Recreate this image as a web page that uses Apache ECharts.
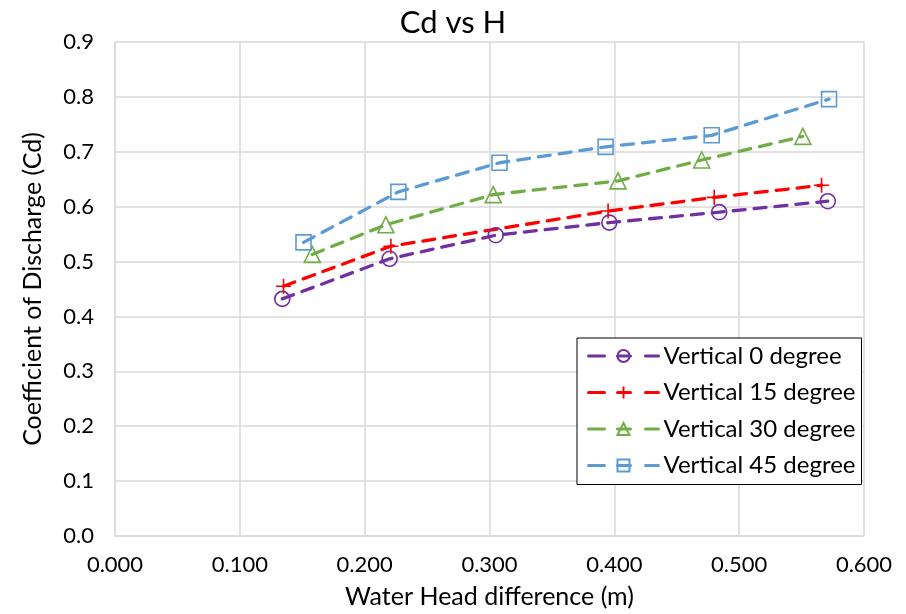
<!DOCTYPE html>
<html>
<head>
<meta charset="utf-8">
<script src="https://cdn.jsdelivr.net/npm/echarts@6/dist/echarts.min.js"></script>
<style>
  html, body { margin: 0; padding: 0; background: #fff; }
  #chart { width: 906px; height: 614px; }
</style>
</head>
<body>
<div id="chart"></div>
<script>
// Water head difference (m) and discharge coefficient per nozzle angle
const seriesNames = ['Vertical 0 degree', 'Vertical 15 degree', 'Vertical 30 degree', 'Vertical 45 degree'];
const h0  = [0.134, 0.220, 0.305, 0.396, 0.484, 0.571];
const cd0 = [0.432, 0.505, 0.548, 0.571, 0.590, 0.610];
const h15  = [0.135, 0.221, 0.395, 0.480, 0.566];
const cd15 = [0.455, 0.528, 0.592, 0.617, 0.639];
const h30  = [0.158, 0.217, 0.303, 0.403, 0.470, 0.551];
const cd30 = [0.513, 0.567, 0.622, 0.647, 0.685, 0.728];
const h45  = [0.151, 0.227, 0.308, 0.393, 0.478, 0.572];
const cd45 = [0.535, 0.627, 0.680, 0.709, 0.730, 0.796];

const FONT = 'Lato, "Open Sans", sans-serif';
const GRID_GREY = '#d9d9d9';
const plusPath = 'path://M0,5 L10,5 M5,0 L5,10';

function pairs(xs, ys) { return xs.map((x, i) => [x, ys[i]]); }

function makeSeries(name, xs, ys, color, symbol, size) {
  return {
    name: name,
    type: 'line',
    data: pairs(xs, ys),
    symbol: symbol,
    symbolSize: size,
    showAllSymbol: true,
    lineStyle: { color: color, width: 3.3, type: [12, 9], cap: 'round' },
    itemStyle: { color: 'none', borderColor: color, borderWidth: 1.6 },
    emphasis: { disabled: true },
    animation: false
  };
}

const chart = echarts.init(document.getElementById('chart'), null, { renderer: 'canvas' });
chart.setOption({
  backgroundColor: '#fff',
  animation: false,
  title: {
    text: 'Cd vs H',
    left: 'center',
    top: 2,
    textStyle: { fontFamily: FONT, fontSize: 31, fontWeight: 'normal', color: '#000' }
  },
  grid: { left: 115, right: 42, top: 42, bottom: 76, containLabel: false },
  xAxis: {
    type: 'value',
    min: 0, max: 0.6, interval: 0.1,
    name: 'Water Head difference (m)',
    nameLocation: 'middle',
    nameGap: 48,
    nameTextStyle: { fontFamily: FONT, fontSize: 25, color: '#000' },
    axisLine: { show: true, lineStyle: { color: GRID_GREY, width: 1.5 } },
    axisTick: { show: false },
    axisLabel: {
      fontFamily: FONT, fontSize: 22, color: '#000', margin: 18,
      formatter: v => v.toFixed(3)
    },
    splitLine: { show: true, lineStyle: { color: GRID_GREY, width: 1.5 } }
  },
  yAxis: {
    type: 'value',
    min: 0, max: 0.9, interval: 0.1,
    name: 'Coefficient of Discharge (Cd)',
    nameLocation: 'middle',
    nameGap: 70,
    nameTextStyle: { fontFamily: FONT, fontSize: 25, color: '#000' },
    axisLine: { show: true, lineStyle: { color: GRID_GREY, width: 1.5 } },
    axisTick: { show: false },
    axisLabel: {
      fontFamily: FONT, fontSize: 22, color: '#000', margin: 21,
      formatter: v => v.toFixed(1)
    },
    splitLine: { show: true, lineStyle: { color: GRID_GREY, width: 1.5 } }
  },
  legend: {
    orient: 'vertical',
    left: 577,
    top: 338,
    padding: [6, 6, 7, 10],
    backgroundColor: '#fff',
    borderColor: '#000',
    borderWidth: 1,
    borderRadius: 0,
    itemWidth: 70,
    itemHeight: 15,
    itemGap: 12.5,
    itemTextGap: 8,
    lineStyle: { width: 3, type: [16, 13, 13, 15, 13, 200], cap: 'round' },
    textStyle: { fontFamily: FONT, fontSize: 24, color: '#000', lineHeight: 24 },
    data: seriesNames
  },
  series: [
    makeSeries(seriesNames[0], h0, cd0, '#7030a0', 'circle', 15),
    makeSeries(seriesNames[1], h15, cd15, '#ff0000', plusPath, 15),
    makeSeries(seriesNames[2], h30, cd30, '#70ad47', 'triangle', 16),
    makeSeries(seriesNames[3], h45, cd45, '#5b9bd5', 'rect', 15)
  ]
});
</script>
</body>
</html>
